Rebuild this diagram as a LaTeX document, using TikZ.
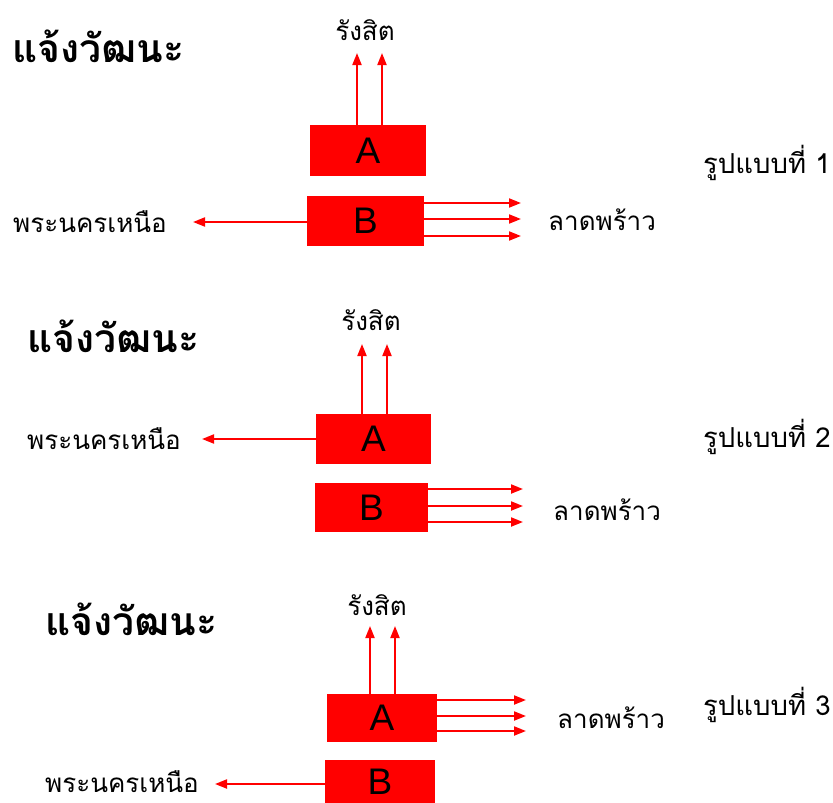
\documentclass[tikz,border=0pt]{standalone}
\usepackage{fontspec}
\setmainfont{Liberation Sans}
\newfontfamily\thai[Script=Thai]{Loma}
\usetikzlibrary{arrows.meta}
\begin{document}
\begin{tikzpicture}[x=1pt,y=-1pt,
  box/.style={fill=red, draw=none, inner sep=0pt, text=black, font=\fontsize{37}{37}\selectfont},
  arr/.style={red, line width=2pt, -{Triangle[length=12pt,width=9pt]}},
  ttl/.style={font=\thai\bfseries\fontsize{39}{39}\selectfont, inner sep=0pt},
  lbl/.style={font=\thai\fontsize{26}{26}\selectfont, inner sep=0pt},
  pat/.style={font=\thai\fontsize{27.5}{27.5}\selectfont, inner sep=0pt, anchor=west}
]
\useasboundingbox (0,0) rectangle (833,803);
% ---------- pattern 1 ----------
\node[ttl, anchor=west] (t1) at (12,46) {แจ้งวัฒนะ};
\node[lbl] (r1) at (365,30) {รังสิต};
\node[box, minimum width=116pt, minimum height=51pt] (A1) at (368,150.5) {A};
\node[box, minimum width=117pt, minimum height=50pt] (B1) at (365.5,221) {B};
\node[lbl, anchor=west] (p1) at (13,222) {พระนครเหนือ};
\node[lbl, anchor=west] (l1) at (548,220) {ลาดพร้าว};
\node[pat] (f1) at (703,163) {รูปแบบที่ 1};
\coordinate (u1a) at (357,53);
\coordinate (u1b) at (382,53);
\coordinate (w1) at (193,222);
\coordinate (e1a) at (521,203);
\coordinate (e1b) at (521,219);
\coordinate (e1c) at (521,236);
\draw[arr] (A1.north -| u1a) -- (u1a);
\draw[arr] (A1.north -| u1b) -- (u1b);
\draw[arr] (B1.west |- w1) -- (w1);
\draw[arr] (B1.east |- e1a) -- (e1a);
\draw[arr] (B1.east |- e1b) -- (e1b);
\draw[arr] (B1.east |- e1c) -- (e1c);
% ---------- pattern 2 ----------
\node[ttl, anchor=west] (t2) at (27,336) {แจ้งวัฒนะ};
\node[lbl] (r2) at (371,320) {รังสิต};
\node[box, minimum width=115pt, minimum height=50pt] (A2) at (373.5,439) {A};
\node[box, minimum width=113pt, minimum height=49pt] (B2) at (371.5,507.5) {B};
\node[lbl, anchor=west] (p2) at (27,439) {พระนครเหนือ};
\node[lbl, anchor=west] (l2) at (553,510) {ลาดพร้าว};
\node[pat] (f2) at (703,437) {รูปแบบที่ 2};
\coordinate (u2a) at (362,344);
\coordinate (u2b) at (387,344);
\coordinate (w2) at (202,439);
\coordinate (e2a) at (523,489);
\coordinate (e2b) at (523,506);
\coordinate (e2c) at (523,522);
\draw[arr] (A2.north -| u2a) -- (u2a);
\draw[arr] (A2.north -| u2b) -- (u2b);
\draw[arr] (A2.west |- w2) -- (w2);
\draw[arr] (B2.east |- e2a) -- (e2a);
\draw[arr] (B2.east |- e2b) -- (e2b);
\draw[arr] (B2.east |- e2c) -- (e2c);
% ---------- pattern 3 ----------
\node[ttl, anchor=west] (t3) at (45,619) {แจ้งวัฒนะ};
\node[lbl] (r3) at (377,605) {รังสิต};
\node[box, minimum width=110pt, minimum height=48pt] (A3) at (382,718) {A};
\node[box, minimum width=110pt, minimum height=43pt] (B3) at (380,781.5) {B};
\node[lbl, anchor=west] (p3) at (45,782) {พระนครเหนือ};
\node[lbl, anchor=west] (l3) at (557,718) {ลาดพร้าว};
\node[pat] (f3) at (703,705) {รูปแบบที่ 3};
\coordinate (u3a) at (370,626);
\coordinate (u3b) at (395,626);
\coordinate (w3) at (215,784);
\coordinate (e3a) at (526,700);
\coordinate (e3b) at (526,716);
\coordinate (e3c) at (526,731);
\draw[arr] (A3.north -| u3a) -- (u3a);
\draw[arr] (A3.north -| u3b) -- (u3b);
\draw[arr] (B3.west |- w3) -- (w3);
\draw[arr] (A3.east |- e3a) -- (e3a);
\draw[arr] (A3.east |- e3b) -- (e3b);
\draw[arr] (A3.east |- e3c) -- (e3c);
\end{tikzpicture}
\end{document}
